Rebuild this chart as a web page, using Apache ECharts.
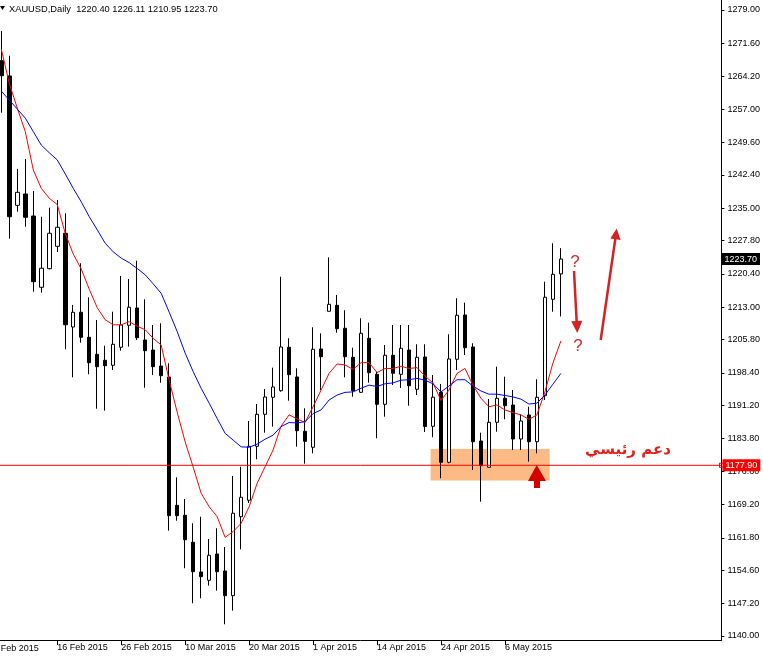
<!DOCTYPE html>
<html><head><meta charset="utf-8">
<script src="https://cdn.jsdelivr.net/npm/echarts@6/dist/echarts.min.js"></script>
<style>html,body{margin:0;padding:0;background:#fff}#c{width:763px;height:656px}</style>
</head><body><div id="c"></div>
<script>
const symbolName = 'XAUUSD,Daily';
const dates = ['5 Feb','6 Feb','9 Feb','10 Feb','11 Feb','12 Feb','13 Feb','16 Feb','17 Feb','18 Feb',
 '19 Feb','20 Feb','23 Feb','24 Feb','25 Feb','26 Feb','27 Feb','2 Mar','3 Mar','4 Mar',
 '5 Mar','6 Mar','9 Mar','10 Mar','11 Mar','12 Mar','13 Mar','16 Mar','17 Mar','18 Mar',
 '19 Mar','20 Mar','23 Mar','24 Mar','25 Mar','26 Mar','27 Mar','30 Mar','31 Mar','1 Apr',
 '2 Apr','6 Apr','7 Apr','8 Apr','9 Apr','10 Apr','13 Apr','14 Apr','15 Apr','16 Apr',
 '17 Apr','20 Apr','21 Apr','22 Apr','23 Apr','24 Apr','27 Apr','28 Apr','29 Apr','30 Apr',
 '1 May','4 May','5 May','6 May','7 May','8 May','11 May','12 May','13 May','14 May','15 May'];
const opens = [1267.74,1264.35,1235.63,1238.14,1233.26,1217.43,1221.56,1226.53,1229.42,1208.61,
 1211.88,1206.33,1202.55,1201.22,1200.11,1204.11,1208.99,1212.83,1205.73,1203.50,
 1199.95,1197.51,1169.02,1166.80,1160.81,1154.21,1152.37,1158.21,1154.43,1148.95,
 1166.49,1170.13,1182.12,1189.23,1193.00,1194.47,1204.11,1197.51,1185.45,1181.90,
 1203.73,1212.10,1213.43,1208.33,1201.88,1194.11,1206.10,1198.11,1191.45,1202.33,
 1198.11,1203.50,1194.78,1201.95,1186.56,1194.11,1178.57,1201.44,1211.28,1204.17,
 1183.30,1177.46,1187.45,1192.78,1191.29,1183.74,1189.07,1183.14,1193.36,1214.76,1220.40];
const closes = [1264.41,1233.10,1238.52,1232.97,1218.67,1221.65,1229.42,1230.75,1209.12,1211.88,
 1206.33,1200.69,1199.80,1200.02,1204.77,1209.06,1212.99,1206.24,1203.35,1199.80,
 1197.80,1166.71,1166.71,1161.38,1154.28,1153.17,1157.92,1154.28,1148.95,1167.25,
 1170.80,1182.12,1189.23,1193.07,1195.29,1204.17,1198.02,1185.59,1183.23,1203.66,
 1202.02,1213.65,1208.24,1202.02,1194.47,1207.21,1198.47,1191.45,1202.33,1198.33,
 1203.88,1195.58,1201.88,1186.52,1193.03,1178.57,1201.51,1211.21,1204.02,1183.14,
 1177.82,1187.45,1192.78,1191.14,1183.74,1187.74,1183.14,1193.00,1215.21,1220.31,1223.70];
const highs = [1274.34,1268.85,1243.70,1245.92,1238.81,1233.10,1235.10,1236.81,1233.86,1213.50,
 1222.76,1215.21,1210.17,1204.46,1212.01,1219.94,1219.27,1223.33,1214.76,1209.06,
 1209.43,1200.55,1175.24,1170.42,1165.03,1166.49,1161.54,1163.92,1159.76,1175.53,
 1177.59,1187.74,1191.51,1194.85,1199.58,1219.78,1206.10,1199.44,1190.56,1208.55,
 1207.21,1224.09,1215.72,1212.32,1204.02,1210.54,1209.57,1198.69,1204.62,1209.06,
 1209.06,1209.06,1204.77,1204.77,1197.95,1195.96,1206.99,1214.99,1214.01,1205.00,
 1185.14,1192.63,1199.80,1197.58,1194.62,1189.23,1190.92,1197.00,1218.67,1227.20,1226.11];
const lows = [1256.20,1228.22,1234.21,1230.88,1216.45,1216.23,1221.43,1225.27,1203.66,1197.44,
 1205.13,1198.11,1190.47,1190.03,1199.06,1203.35,1204.24,1205.73,1195.13,1197.95,
 1196.24,1163.38,1165.60,1155.04,1147.26,1148.37,1151.17,1150.06,1142.60,1145.62,
 1159.25,1169.53,1179.24,1185.14,1186.48,1194.25,1192.25,1182.04,1178.26,1180.57,
 1194.62,1212.10,1207.35,1197.44,1193.14,1193.96,1196.24,1183.90,1188.70,1195.73,
 1195.07,1191.14,1193.51,1185.30,1184.14,1175.02,1178.35,1199.06,1202.39,1176.86,
 1169.82,1177.46,1185.37,1188.12,1181.30,1181.30,1178.71,1180.57,1192.40,1212.01,1210.95];
const maFast = [1270.3,1262.7,1257.2,1252.0,1243.5,1239.4,1237.2,1235.8,1229.4,1224.8,
 1221.5,1217.0,1212.9,1210.2,1209.1,1209.1,1209.8,1208.8,1208.0,1206.1,
 1204.6,1196.8,1189.7,1183.1,1177.5,1171.7,1168.7,1166.5,1161.9,1163.2,
 1165.0,1168.7,1173.9,1177.6,1181.3,1186.6,1189.1,1188.2,1187.4,1190.9,
 1194.6,1198.3,1200.4,1200.2,1199.2,1200.7,1200.7,1198.5,1199.4,1199.4,
 1199.9,1199.4,1199.6,1197.7,1196.2,1192.3,1194.6,1198.3,1199.4,1195.7,
 1192.8,1190.9,1191.3,1190.2,1189.6,1189.1,1188.1,1189.1,1194.2,1200.6,1205.5];
const maSlow = [1261.0,1259.0,1257.0,1255.0,1252.0,1249.0,1247.3,1245.7,1242.6,1239.4,
 1236.4,1233.1,1230.2,1227.2,1225.3,1223.9,1222.9,1221.6,1220.2,1218.2,
 1216.1,1211.9,1207.6,1202.8,1198.7,1195.0,1191.7,1188.3,1185.0,1183.5,
 1182.0,1181.9,1182.6,1183.7,1184.6,1186.5,1187.4,1187.3,1187.6,1189.4,
 1190.2,1192.4,1193.5,1194.1,1194.2,1195.0,1195.7,1195.4,1196.0,1196.2,
 1196.8,1196.9,1197.2,1196.8,1196.0,1194.2,1195.5,1196.9,1196.9,1195.5,
 1194.4,1193.7,1193.7,1193.4,1193.1,1192.6,1191.5,1191.7,1193.5,1195.9,1198.3];
const xTickIdx = [-1,7,15,23,31,39,47,55,63];
const xTickLabels = ['4 Feb 2015','16 Feb 2015','26 Feb 2015','10 Mar 2015','20 Mar 2015','1 Apr 2015','14 Apr 2015','24 Apr 2015','6 May 2015'];
const yTickLabels = ['1279.00','1271.60','1264.20','1257.00','1249.60','1242.40','1235.00','1227.80','1220.40','1213.00',
 '1205.80','1198.40','1191.20','1183.80','1176.60','1169.20','1161.80','1154.60','1147.20','1140.00'];
const supportLevel = 1177.90;
const zoneX = [53.7, 68.6];
const zoneY = [1174.5, 1181.5];
const supportText = 'دعم رئيسي';

const X_MIN = -0.1625, X_MAX = 90.0875;
const FONT = '"Liberation Sans", Arial, sans-serif';
const RED = '#ff0000';
const last = dates.length - 1;
const candleData = dates.map((d, i) => [i, opens[i], closes[i], lows[i], highs[i]]);
const fastData = maFast.map((v, i) => [i, v]);
const slowData = maSlow.map((v, i) => [i, v]);
const yTickVals = yTickLabels.map(Number);
const titleText = symbolName + '  ' + [opens[last], highs[last], lows[last], closes[last]].map(v => v.toFixed(2)).join(' ');
const hollowSquare = 'path://M0,0H10V10H0Z M2,2V8H8V2H2Z';

const chart = echarts.init(document.getElementById('c'), null, {renderer: 'canvas'});
chart.setOption({
  animation: false,
  backgroundColor: '#ffffff',
  grid: {left: 0, right: 41, top: 0, bottom: 16},
  xAxis: {
    type: 'value', min: X_MIN, max: X_MAX,
    axisLine: {show: true, onZero: false, lineStyle: {color: '#000', width: 1}},
    axisTick: {show: true, length: 5, inside: false, customValues: xTickIdx.filter(v => v >= 0), lineStyle: {color: '#000'}},
    axisLabel: {show: true, customValues: xTickIdx.filter(v => v >= 0), align: 'left', margin: 3, fontSize: 9, fontFamily: FONT, color: '#000',
      formatter: v => xTickLabels[xTickIdx.indexOf(Math.round(v))] || ''},
    splitLine: {show: false}
  },
  yAxis: {
    type: 'value', position: 'right', min: 1139.11, max: 1281.22, scale: true,
    axisLine: {show: true, onZero: false, lineStyle: {color: '#000', width: 1}},
    axisTick: {show: true, length: 3, inside: false, customValues: yTickVals, lineStyle: {color: '#000'}},
    axisLabel: {show: true, customValues: yTickVals, margin: 6, fontSize: 9, fontFamily: FONT, color: '#000',
      formatter: v => v.toFixed(2)},
    splitLine: {show: false}
  },
  series: [
    {
      type: 'candlestick', name: 'XAUUSD', data: candleData, barWidth: 4, z: 3,
      encode: {x: 0, y: [1, 2, 3, 4]},
      itemStyle: {color: '#ffffff', color0: '#000000', borderColor: '#000000', borderColor0: '#000000', borderWidth: 1},
      emphasis: {disabled: true}, silent: true
    },
    {
      type: 'line', name: 'MA fast', data: fastData, showSymbol: false, symbol: 'none', z: 4, silent: true,
      lineStyle: {color: RED, width: 1}, itemStyle: {color: RED}, emphasis: {disabled: true}
    },
    {
      type: 'line', name: 'MA slow', data: slowData, showSymbol: false, symbol: 'none', z: 4, silent: true,
      lineStyle: {color: '#0000ff', width: 1}, itemStyle: {color: '#0000ff'}, emphasis: {disabled: true}
    },
    {
      type: 'line', name: 'zone', data: [], z: 5, silent: true,
      markArea: {silent: true, itemStyle: {color: '#FC8C34', opacity: 0.6},
        data: [[{xAxis: zoneX[0], yAxis: zoneY[1]}, {xAxis: zoneX[1], yAxis: zoneY[0]}]]},
      markLine: {
        silent: true, symbol: ['none', 'none'], animation: false,
        lineStyle: {color: 'rgba(0,0,0,0)', width: 0},
        label: {show: true, position: 'end', distance: 0, formatter: closes[last].toFixed(2),
          backgroundColor: '#000000', color: '#ffffff', fontSize: 9, fontFamily: FONT, padding: [2, 3, 1, 3]},
        data: [{yAxis: closes[last], lineStyle: {color: 'rgba(0,0,0,0)', width: 0}}]
      }
    },
    {
      type: 'line', name: 'support', z: 6, silent: true, clip: false,
      data: [{value: [X_MIN, supportLevel], symbol: 'none'}, {value: [X_MAX, supportLevel], symbol: hollowSquare, symbolSize: 5}],
      showSymbol: true, showAllSymbol: true,
      lineStyle: {color: RED, width: 1}, itemStyle: {color: RED},
      emphasis: {disabled: true},
      endLabel: {show: true, distance: 1, formatter: supportLevel.toFixed(2),
        backgroundColor: RED, color: '#ffffff', fontSize: 9, fontFamily: FONT, padding: [2, 3, 1, 3]}
    }
  ]
});

const x0 = chart.convertToPixel({xAxisIndex: 0}, xTickIdx[0]);
chart.setOption({
  graphic: [
    {type: 'text', z: 100, x: x0, y: 644, style: {text: xTickLabels[0], font: '9px ' + FONT, fill: '#000', textAlign: 'left', textVerticalAlign: 'top'}},
    {type: 'polygon', z: 100, shape: {points: [[0, 6], [5, 6], [2.5, 10]]}, style: {fill: '#000'}},
    {type: 'text', z: 100, x: 9, y: 9, style: {text: titleText, font: '9.3px ' + FONT, fill: '#000', textVerticalAlign: 'middle'}},
    {type: 'text', z: 100, x: 575, y: 262, style: {text: '?', font: '17px ' + FONT, fill: '#d42a2a', textAlign: 'center', textVerticalAlign: 'middle'}},
    {type: 'text', z: 100, x: 578, y: 346, style: {text: '?', font: '17px ' + FONT, fill: '#d42a2a', textAlign: 'center', textVerticalAlign: 'middle'}},
    {type: 'line', z: 100, shape: {x1: 574, y1: 271, x2: 576.7, y2: 322}, style: {stroke: '#d42222', lineWidth: 2.5}},
    {type: 'polygon', z: 100, shape: {points: [[577.3, 333], [582.4, 320.7], [571.2, 321.3]]}, style: {fill: '#d42222'}},
    {type: 'line', z: 100, shape: {x1: 600.7, y1: 340, x2: 615.3, y2: 239}, style: {stroke: '#d42222', lineWidth: 2.5}},
    {type: 'polygon', z: 100, shape: {points: [[616.7, 228.5], [620.6, 240], [610.3, 238.6]]}, style: {fill: '#d42222'}},
    {type: 'polygon', z: 100, shape: {points: [[536.7, 465], [546, 481], [540, 481], [540, 488], [534, 488], [534, 481], [528, 481]]}, style: {fill: '#d40000'}},
    {type: 'text', z: 100, x: 628, y: 450, style: {text: supportText, font: 'bold 15px "DejaVu Sans", sans-serif', fill: '#e3201b', textAlign: 'center', textVerticalAlign: 'middle'}}
  ]
});
</script>
</body></html>
